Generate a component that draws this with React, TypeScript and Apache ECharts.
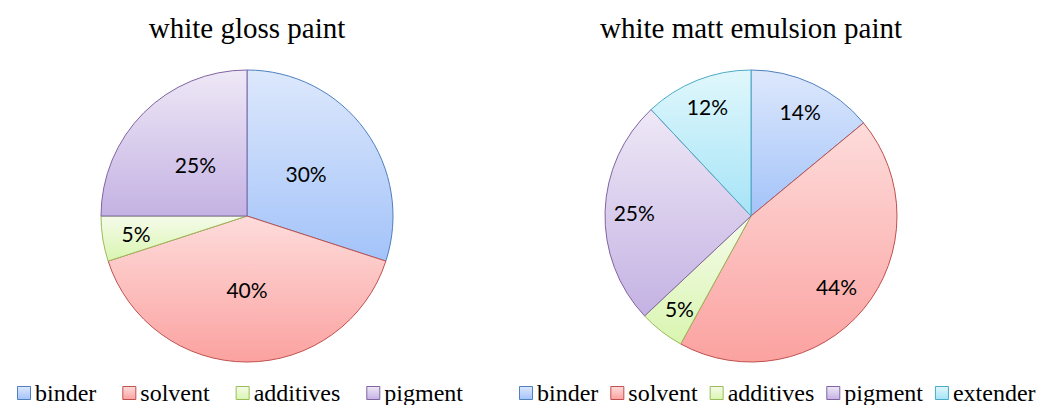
import React, { useEffect, useRef } from "react";
import * as echarts from "echarts";

const categories = ["binder", "solvent", "additives", "pigment", "extender"];
const glossValues = [30, 40, 5, 25];
const mattValues = [14, 44, 5, 25, 12];
const titles = ["white gloss paint", "white matt emulsion paint"];

const borderColors = ["#4f81bd", "#c0504d", "#9bbb59", "#8064a2", "#4bacc6"];
const gradTop = ["#dde8fc", "#fddcdb", "#f5fbea", "#eee8f6", "#e0f7fc"];
const gradBottom = ["#a3c3f9", "#fba2a0", "#d9f5b0", "#c4b2e3", "#a6e4f7"];

const CENTERS = [
  [247, 216],
  [751, 216],
];
const R = 146;
const LABEL_FACTORS = [
  [0.5, 0.5, 0.77, 0.5],
  [0.79, 0.76, 0.8, 0.8, 0.81],
];
const LEGEND_LEFT = [17, 519];
const LEGEND_GAP = [26, 12];
const LEGEND_Y = 393;
const LEGEND_FONT = 24;

function gradient(i: number) {
  return new echarts.graphic.LinearGradient(0, 0, 0, 1, [
    { offset: 0, color: gradTop[i] },
    { offset: 1, color: gradBottom[i] },
  ]);
}

function makeData(values: number[]) {
  return values.map((v, i) => ({
    name: categories[i],
    value: v,
    itemStyle: {
      color: gradient(i),
      borderColor: borderColors[i],
      borderWidth: 1,
    },
  }));
}

function midAngles(values: number[]) {
  const total = values.reduce((a, b) => a + b, 0);
  let acc = 0;
  return values.map((v) => {
    const mid = ((acc + v / 2) / total) * Math.PI * 2;
    acc += v;
    return mid;
  });
}

function buildLegend(n: number, left: number, gap: number) {
  const ctx = document.createElement("canvas").getContext("2d")!;
  ctx.font = `${LEGEND_FONT}px 'Liberation Serif'`;
  const els: any[] = [];
  let x = left;
  for (let i = 0; i < n; i++) {
    const name = categories[i];
    els.push({
      type: "rect",
      shape: { x: x + 0.5, y: LEGEND_Y - 6.5, width: 13, height: 13 },
      style: { fill: gradient(i), stroke: borderColors[i], lineWidth: 1 },
    });
    const w = ctx.measureText(name).width;
    els.push({
      type: "text",
      x: x + 18,
      y: LEGEND_Y,
      style: {
        text: name,
        fontFamily: "Liberation Serif",
        fontSize: LEGEND_FONT,
        fill: "#000",
        verticalAlign: "middle",
        align: "left",
      },
    });
    x += 18 + w + gap;
  }
  return els;
}

export default function App() {
  const ref = useRef<HTMLDivElement>(null);
  useEffect(() => {
    document.body.style.margin = "0";
    const chart = echarts.init(ref.current!, null, { renderer: "svg" });
    const labelStyle = {
      show: true,
      position: "inside",
      formatter: "{c}%",
      fontFamily: "Lato",
      fontSize: 21,
      color: "#000",
    };
    const allVals = [glossValues, mattValues];
    const mids = allVals.map(midAngles);
    chart.setOption({
      animation: false,
      title: titles.map((t, i) => ({
        text: t,
        left: CENTERS[i][0],
        textAlign: "center",
        top: 13,
        padding: 0,
        textStyle: {
          fontFamily: "Liberation Serif",
          fontSize: 29,
          fontWeight: "normal",
          color: "#000",
        },
      })),
      graphic: [
        ...buildLegend(glossValues.length, LEGEND_LEFT[0], LEGEND_GAP[0]),
        ...buildLegend(mattValues.length, LEGEND_LEFT[1], LEGEND_GAP[1]),
      ],
      series: allVals.map((vals, si) => ({
        type: "pie",
        center: CENTERS[si],
        radius: [0, R],
        startAngle: 90,
        clockwise: true,
        label: labelStyle,
        labelLine: { show: false },
        emphasis: { disabled: true },
        data: makeData(vals),
        labelLayout: (params: any) => {
          const di = params.dataIndex;
          const c = CENTERS[si];
          const a = mids[si][di];
          const d = LABEL_FACTORS[si][di] * R;
          return {
            x: c[0] + Math.sin(a) * d,
            y: c[1] - Math.cos(a) * d,
            align: "center",
            verticalAlign: "middle",
          };
        },
      })),
    });
    return () => chart.dispose();
  }, []);
  return <div ref={ref} style={{ width: 1056, height: 405 }} />;
}
